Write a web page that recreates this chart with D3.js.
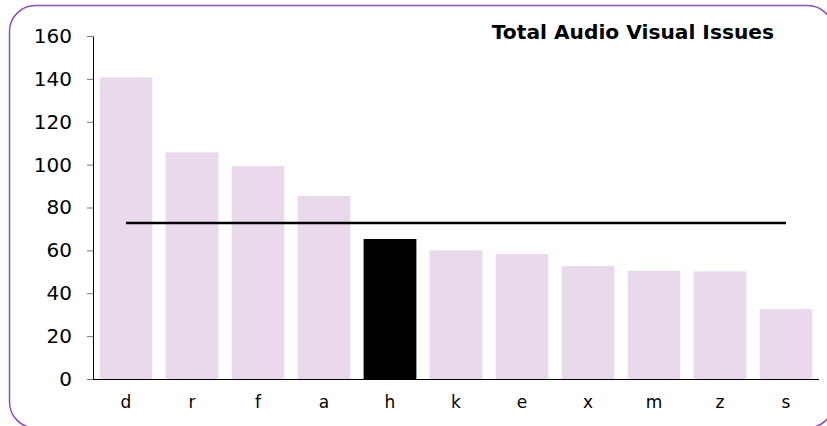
<!DOCTYPE html>
<html><head><meta charset="utf-8">
<script src="https://cdn.jsdelivr.net/npm/d3@7"></script>
<style>body{margin:0;background:#fff}svg{display:block}</style>
</head><body><svg id="c" width="827" height="426"></svg>
<script>
const categories = ["d","r","f","a","h","k","e","x","m","z","s"];
const values = [140.7,105.7,99.3,85.4,65.3,60,58.3,52.7,50.5,50.2,32.6];
const highlight = ["h"];
const averageValue = 72.8;
const yTicks = [0,20,40,60,80,100,120,140,160];
const title = "Total Audio Visual Issues";

const svg = d3.select("#c");
svg.append("rect").attr("x",9.5).attr("y",5.5).attr("width",824).attr("height",422.5)
  .attr("rx",26).attr("fill","none").attr("stroke","#8a4fc0").attr("stroke-width",1.5);

const m = {l:93, r:819, t:36, b:379};
const x = d3.scaleBand().domain(categories).range([m.l, m.r]).paddingInner(0.2).paddingOuter(0.1);
const y = d3.scaleLinear().domain([0,160]).range([m.b, m.t]);

svg.append("g").selectAll("rect").data(categories).join("rect")
  .attr("x", d=>x(d)).attr("width", x.bandwidth())
  .attr("y", (d,i)=>y(values[i])).attr("height", (d,i)=>y(0)-y(values[i]))
  .attr("fill", d=> highlight.includes(d) ? "#000" : "#ead9ec");

const yAxis = svg.append("g").attr("transform",`translate(${m.l},0)`)
  .call(d3.axisLeft(y).tickValues(yTicks).tickSize(6).tickSizeOuter(0).tickPadding(15));
yAxis.select(".domain").attr("stroke","#000");
yAxis.selectAll(".tick line").attr("stroke","#777");
yAxis.selectAll("text").attr("font-family","DejaVu Sans, Verdana, sans-serif").attr("font-size",20).attr("fill","#000");

const xAxis = svg.append("g").attr("transform",`translate(0,${m.b})`)
  .call(d3.axisBottom(x).tickSize(0).tickSizeOuter(0).tickPadding(17));
xAxis.select(".domain").attr("stroke","#000").attr("d",`M${m.l},0.5H${m.r}`);
xAxis.selectAll("text").attr("font-family","DejaVu Sans, Verdana, sans-serif").attr("font-size",17).attr("fill","#000");

const first = categories[0], last = categories[categories.length-1];
svg.append("line")
  .attr("x1", x(first)+x.bandwidth()/2).attr("x2", x(last)+x.bandwidth()/2)
  .attr("y1", y(averageValue)).attr("y2", y(averageValue))
  .attr("stroke","#000").attr("stroke-width",2.4);

svg.append("text").attr("x",774).attr("y",39).attr("text-anchor","end")
  .attr("font-family","DejaVu Sans, Verdana, sans-serif").attr("font-weight","bold")
  .attr("font-size",20.2).attr("fill","#000").text(title);
</script></body></html>
